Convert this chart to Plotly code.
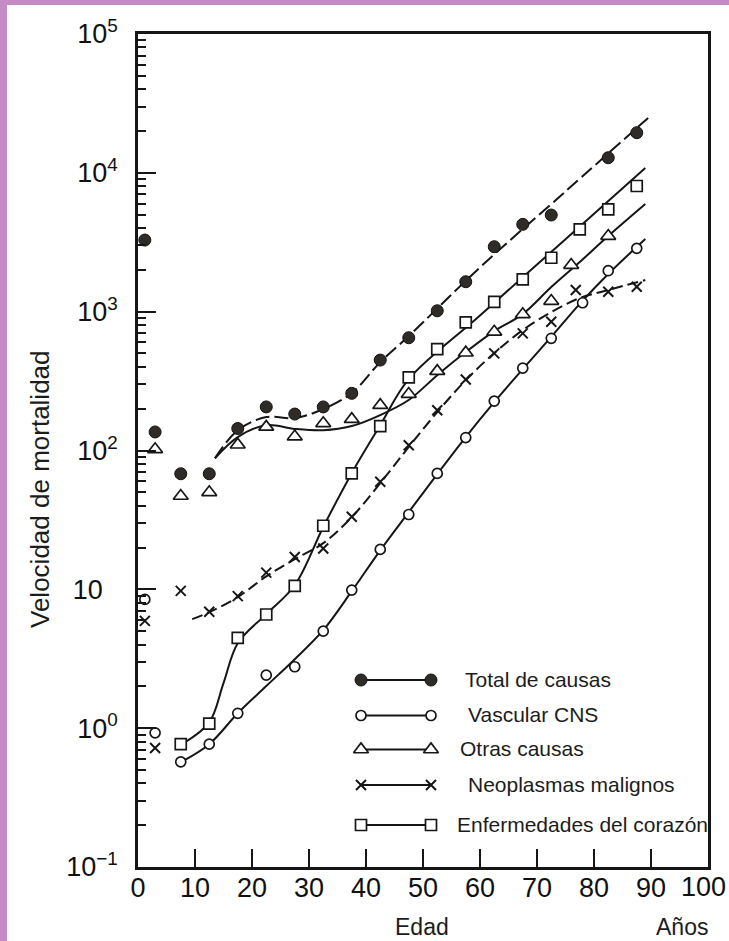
import plotly.graph_objects as go

# ---------------- data ----------------
# Total de causas (filled circles)
total_age = [1.2, 3, 7.5, 12.5, 17.5, 22.5, 27.5, 32.5, 37.5, 42.5, 47.5, 52.5, 57.5, 62.5, 67.5, 72.5, 82.5, 87.5]
total_val = [3280, 136, 68, 68, 144, 206, 183, 206, 258, 448, 649, 1015, 1643, 2937, 4254, 4966, 12850, 19450]
total_curve_age = [13.5, 17.5, 22.5, 27.5, 32.5, 37.5, 42.5, 47.5, 60, 75, 89.5]
total_curve_val = [88, 140, 174, 171, 199, 259, 433, 667, 2085, 7345, 24880]

# Vascular CNS (open circles)
vasc_age = [1.2, 3, 7.5, 12.5, 17.5, 22.5, 27.5, 32.5, 37.5, 42.5, 47.5, 52.5, 57.5, 62.5, 67.5, 72.5, 78, 82.5, 87.5]
vasc_val = [8.46, 0.925, 0.572, 0.767, 1.28, 2.41, 2.77, 5.0, 9.87, 19.4, 34.6, 68.4, 124, 227, 392, 643, 1159, 1972, 2858]
vasc_curve_age = [7.5, 12.5, 17.5, 22.5, 27.5, 32.5, 37.5, 42.5, 47.5, 52.5, 57.5, 62.5, 67.5, 72.5, 77.5, 82.5, 89]
vasc_curve_val = [0.569, 0.767, 1.28, 2.01, 3.14, 5.08, 9.70, 19.1, 36.0, 67.6, 125, 223, 386, 658, 1138, 1868, 3335]

# Otras causas (triangles)
otras_age = [3, 7.5, 12.5, 17.5, 22.5, 27.5, 32.5, 37.5, 42.5, 47.5, 52.5, 57.5, 62.5, 67.5, 72.5, 76, 82.5]
otras_val = [102, 47, 50, 110, 148, 126, 157, 168, 212, 255, 373, 506, 716, 957, 1192, 2167, 3505]
otras_curve_age = [13.5, 17.5, 22.5, 27.5, 32.5, 37.5, 42.5, 47.5, 52.5, 57.5, 62.5, 67.5, 72.5, 77.5, 82.5, 89]
otras_curve_val = [88, 125, 152, 143, 140, 150, 180, 231, 349, 512, 725, 960, 1504, 2277, 3505, 5960]

# Neoplasmas malignos (crosses)
neo_age = [1.2, 3, 7.5, 12.5, 17.5, 22.5, 27.5, 32.5, 37.5, 42.5, 47.5, 52.5, 57.5, 62.5, 67.5, 72.5, 76.8, 82.5, 87.5]
neo_val = [5.93, 0.72, 9.75, 6.89, 8.93, 13.2, 17.1, 19.7, 33.3, 59.5, 109, 195, 325, 501, 698, 846, 1431, 1391, 1511]
neo_curve_age = [9.5, 12.5, 17.5, 22.5, 27.5, 32.5, 37.5, 42.5, 47.5, 52.5, 57.5, 62.5, 67.5, 72.5, 77.5, 82.5, 89]
neo_curve_val = [6.10, 6.85, 8.79, 12.4, 16.5, 21.5, 33.1, 58.2, 106, 189, 321, 503, 737, 993, 1253, 1432, 1690]

# Enfermedades del corazón (squares)
cor_age = [7.5, 12.5, 17.5, 22.5, 27.5, 32.5, 37.5, 42.5, 47.5, 52.5, 57.5, 62.5, 67.5, 72.5, 77.5, 82.5, 87.5]
cor_val = [0.767, 1.08, 4.47, 6.59, 10.6, 28.7, 68.4, 150, 336, 538, 838, 1178, 1710, 2445, 3917, 5459, 8035]
cor_curve_age = [8, 12.5, 15, 17.5, 22.5, 27.5, 32.5, 37.5, 42.5, 47.5, 60, 75, 89]
cor_curve_val = [0.78, 1.10, 2.11, 4.09, 6.63, 10.7, 28.1, 68.7, 152, 327, 939, 3328, 10830]

legend_names = ["Total de causas", "Vascular CNS", "Otras causas",
                "Neoplasmas malignos", "Enfermedades del corazón"]

x_ticks = [0, 10, 20, 30, 40, 50, 60, 70, 80, 90]
x_last_label = "100"
y_tickvals = [0.1, 1, 10, 100, 1000, 10000, 100000]
y_ticktext = ["10<sup>\u22121</sup>", "10<sup>0</sup>", "10\u00a0\u00a0", "10<sup>2</sup>",
              "10<sup>3</sup>", "10<sup>4</sup>", "10<sup>5</sup>"]
y_minor_vals = [m * 10 ** e for e in range(-1, 5) for m in range(2, 10)]

# ---------------- layout geometry ----------------
W, H = 729, 941
L, R, T, B = 138, 21, 34, 74
PW, PH = W - L - R, H - T - B


def px(x):
    return (x - L) / PW


def py(y):
    return (H - B - y) / PH


INK = "#161616"
FONT = "Liberation Sans, Arial, sans-serif"

styles = {
    "total": dict(marker=dict(symbol="circle", size=12, color="#2f2b27", line=dict(color="#111", width=1)),
                  dash="14px,5px"),
    "vasc": dict(marker=dict(symbol="circle", size=10, color="white", line=dict(color=INK, width=1.7)),
                 dash="solid"),
    "otras": dict(marker=dict(symbol="triangle-up", size=13, color="white", line=dict(color=INK, width=1.7)),
                  dash="solid"),
    "neo": dict(marker=dict(symbol="x-thin", size=10, color=INK, line=dict(color=INK, width=2)),
                dash="11px,5px"),
    "cor": dict(marker=dict(symbol="square", size=11, color="white", line=dict(color=INK, width=1.7)),
                dash="solid"),
}

series = [
    ("total", total_age, total_val, total_curve_age, total_curve_val),
    ("vasc", vasc_age, vasc_val, vasc_curve_age, vasc_curve_val),
    ("otras", otras_age, otras_val, otras_curve_age, otras_curve_val),
    ("neo", neo_age, neo_val, neo_curve_age, neo_curve_val),
    ("cor", cor_age, cor_val, cor_curve_age, cor_curve_val),
]

fig = go.Figure()

# fitted curves
for key, a, v, ca, cv in series:
    fig.add_trace(go.Scatter(x=ca, y=cv, mode="lines", showlegend=False, hoverinfo="skip",
                             line=dict(color=INK, width=2, dash=styles[key]["dash"],
                                       shape="spline", smoothing=1.0)))
# observed points
for key, a, v, ca, cv in series:
    fig.add_trace(go.Scatter(x=a, y=v, mode="markers", showlegend=False, cliponaxis=False,
                             marker=styles[key]["marker"]))

# empty trace so the minor-tick overlay axis gets drawn
fig.add_trace(go.Scatter(x=[None], y=[None], xaxis="x", yaxis="y3", showlegend=False,
                         hoverinfo="skip", mode="markers"))

# hand-drawn style legend (pixel-space overlay axes)
LEG_X0, LEG_X1 = 361, 431
LEG_ROWS = [680, 715.5, 749.5, 785, 825]
LEG_TEXT_X = [463, 466, 458, 466, 455]
for i, (key, *_rest) in enumerate(series):
    fig.add_trace(go.Scatter(x=[LEG_X0, LEG_X1], y=[LEG_ROWS[i]] * 2, xaxis="x2", yaxis="y2",
                             mode="lines+markers", showlegend=False, hoverinfo="skip", cliponaxis=False,
                             line=dict(color=INK, width=2), marker=styles[key]["marker"]))

annotations = []
for i, name in enumerate(legend_names):
    annotations.append(dict(x=LEG_TEXT_X[i], y=LEG_ROWS[i] - 1, xref="x2", yref="y2", text=name,
                            showarrow=False, xanchor="left", yanchor="middle",
                            font=dict(family=FONT, size=21, color="#1c1c1c")))

annotations += [
    dict(x=px(40), y=py(489), xref="paper", yref="paper", text="Velocidad de mortalidad",
         textangle=-90, showarrow=False, xanchor="center", yanchor="middle",
         font=dict(family=FONT, size=26, color="#1c1c1c")),
    dict(x=px(422), y=py(927), xref="paper", yref="paper", text="Edad", showarrow=False,
         xanchor="center", yanchor="middle", font=dict(family=FONT, size=23, color="#1c1c1c")),
    dict(x=px(682), y=py(927), xref="paper", yref="paper", text="Años", showarrow=False,
         xanchor="center", yanchor="middle", font=dict(family=FONT, size=23, color="#1c1c1c")),
    # last x tick label, nudged left so it stays inside the page as in the reference
    dict(x=px(703), y=py(887), xref="paper", yref="paper", text=x_last_label, showarrow=False,
         xanchor="center", yanchor="middle", font=dict(family=FONT, size=27, color="#111")),
]

PURPLE = "#c48bc4"
shapes = [
    dict(type="rect", xref="paper", yref="paper", x0=px(0), x1=px(7), y0=py(H), y1=py(0),
         fillcolor=PURPLE, line=dict(width=0), layer="above"),
    dict(type="rect", xref="paper", yref="paper", x0=px(0), x1=px(W), y0=py(5), y1=py(0),
         fillcolor=PURPLE, line=dict(width=0), layer="above"),
]

fig.update_layout(
    width=W, height=H,
    margin=dict(l=L, r=R, t=T, b=B, pad=0),
    paper_bgcolor="white", plot_bgcolor="white",
    showlegend=False,
    annotations=annotations,
    shapes=shapes,
    xaxis=dict(range=[0, 100], tickmode="array", tickvals=x_ticks, ticktext=[str(t) for t in x_ticks],
               ticks="inside", ticklen=18, tickwidth=2, tickcolor=INK,
               showline=True, linecolor=INK, linewidth=2.5, mirror=True,
               showgrid=False, zeroline=False, ticklabelstandoff=-5,
               tickfont=dict(family=FONT, size=27, color="#111")),
    yaxis=dict(type="log", range=[-1, 5], tickmode="array", tickvals=y_tickvals, ticktext=y_ticktext,
               ticks="inside", ticklen=18, tickwidth=2, tickcolor=INK,
               showline=True, linecolor=INK, linewidth=2.5, mirror=True,
               showgrid=False, zeroline=False, ticklabelstandoff=12,
               tickfont=dict(family=FONT, size=27, color="#111")),
    yaxis3=dict(type="log", range=[-1, 5], overlaying="y", anchor="x", side="left",
                tickmode="array", tickvals=y_minor_vals, ticks="inside", ticklen=8, tickwidth=2,
                tickcolor=INK, showticklabels=False, showline=False, showgrid=False, zeroline=False,
                fixedrange=True),
    xaxis2=dict(overlaying="x", range=[L, W - R], visible=False, fixedrange=True),
    yaxis2=dict(overlaying="y", range=[H - B, T], visible=False, fixedrange=True),
)

fig.write_html("out.html")
